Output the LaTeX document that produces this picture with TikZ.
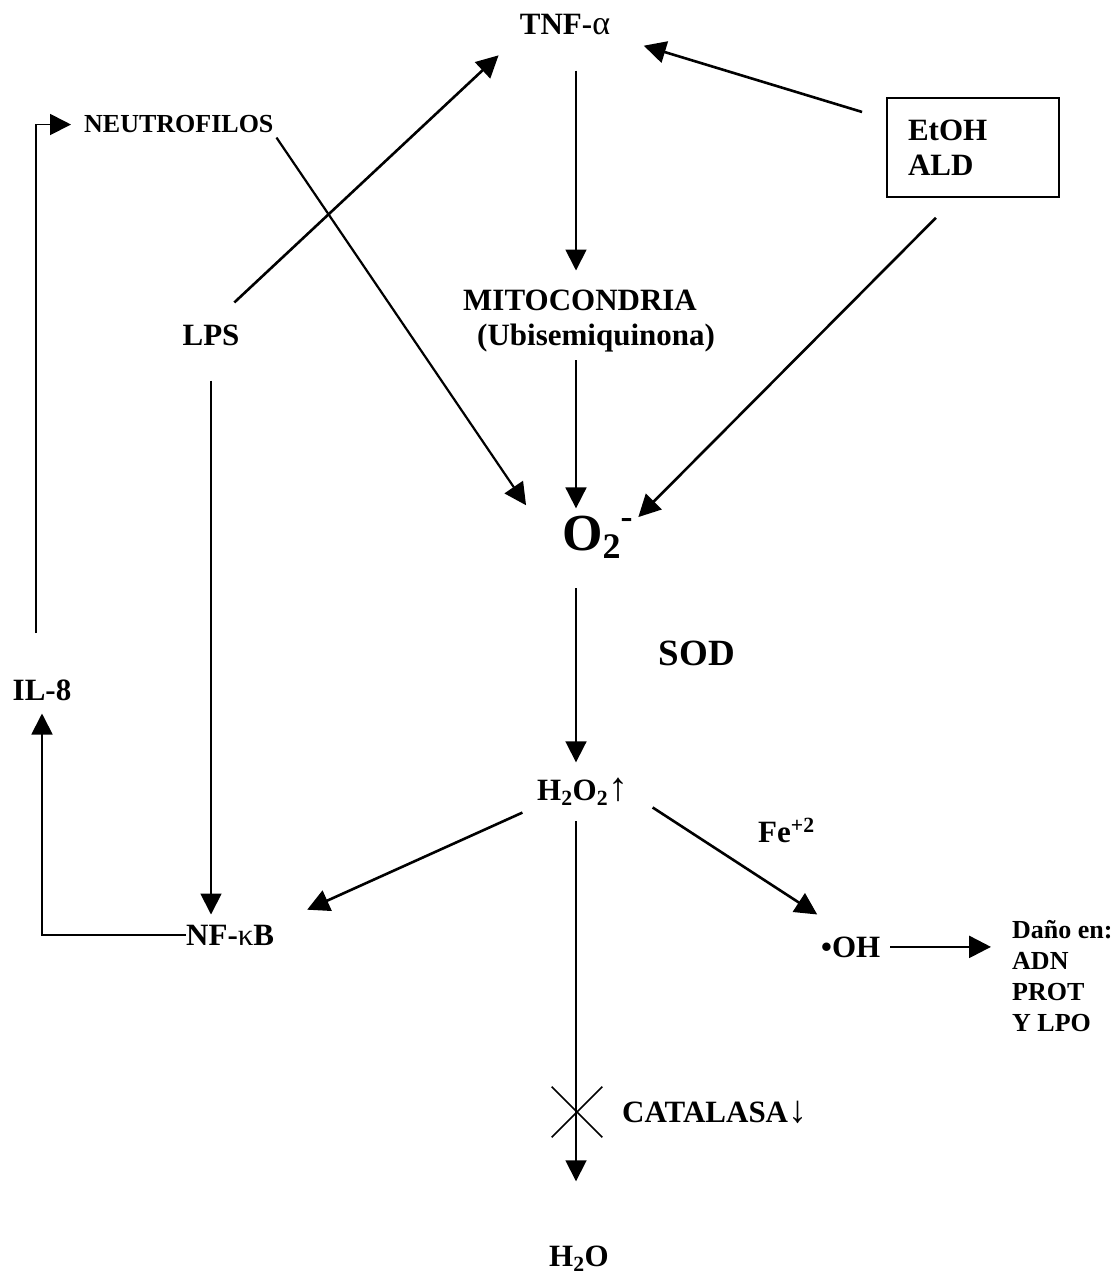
\documentclass[tikz,border=0pt]{standalone}
\usepackage{fontspec}
\setmainfont{Liberation Serif}
\usetikzlibrary{arrows.meta,shapes.misc,calc}

\begin{document}
\begin{tikzpicture}[x=1pt, y=-1pt,
    lbl/.style={inner sep=0pt, font=\bfseries\fontsize{31}{35}\selectfont},
    small/.style={inner sep=0pt, font=\bfseries\fontsize{26}{31}\selectfont},
    thinarr/.style={-{Triangle[length=21pt,width=21pt]}, line width=1.8pt},
    thickarr/.style={-{Triangle[length=22pt,width=22pt]}, line width=2.6pt}]
        \useasboundingbox (0,0) rectangle (1118,1276);
        % Central column
        \coordinate (spine) at (576,0);
        \node[lbl, anchor=base] (tnf) at (565,35) {TNF-{\mdseries\fontsize{34}{35}\selectfont α}};
        \node[lbl, anchor=north west, align=left] (mito) at (463,289.5) {MITOCONDRIA\\\hspace*{14pt}(Ubisemiquinona)};
        \node[inner sep=0pt, anchor=base west, font=\bfseries\fontsize{52}{60}\selectfont] (o2) at (562,550) {O\raisebox{-8pt}{\fontsize{36}{40}\selectfont 2}\raisebox{22pt}{\fontsize{36}{40}\selectfont -}};
        \node[inner sep=0pt, anchor=base, font=\bfseries\fontsize{37}{42}\selectfont] (sod) at (697,665) {SOD};
        \node[lbl, anchor=base west] (h2o2) at (537,800) {H\textsubscript{2}O\textsubscript{2}{\mdseries\fontsize{40}{40}\selectfont ↑}};
        \node[lbl, anchor=base] (h2o) at (579,1266) {H\textsubscript{2}O};
        \node[lbl, anchor=base west] (catalasa) at (622,1122) {CATALASA{\mdseries\fontsize{38}{40}\selectfont ↓}};
        % Left side
        \node[small, anchor=base west] (neut) at (84,133) {NEUTROFILOS};
        \node[lbl, anchor=base] (lps) at (211,345) {LPS};
        \node[lbl, anchor=base] (il8) at (42,700) {IL-8};
        \node[lbl, anchor=base west] (nfkb) at (186,945) {NF-{\mdseries κ}B};
        % Right side
        \node[lbl, draw, line width=2pt, align=left, text width=130pt, inner xsep=21pt, inner ysep=0pt, minimum width=172pt, minimum height=99pt] (etoh) at (973,147.5) {EtOH\\ALD};
        \node[lbl, anchor=base west] (fe) at (758,842) {Fe\textsuperscript{+2}};
        \node[lbl, anchor=base west] (oh) at (821,957) {•OH};
        \node[small, anchor=north west, align=left] (dano) at (1012,920) {Daño en:\\ADN\\PROT\\Y LPO};
        % Blocked catalase step
        \node[draw, cross out, line width=1.6pt, minimum size=49pt, inner sep=0pt] (block) at (577,1112) {};
        % Arrows
        \draw[thinarr, shorten <=35pt, shorten >=19pt] (tnf.south -| spine) -- (mito.north -| spine);
        \draw[thinarr, shorten <=8pt, shorten >=7pt] (mito.south -| spine) -- (o2.north -| spine);
        \draw[thickarr, line width=2.2pt, shorten <=5pt, shorten >=64pt] (neut.south east) -- (o2.south west);
        \draw[thickarr, shorten <=28pt, shorten >=58pt] (etoh.251) -- (o2.south);
        \draw[thickarr, shorten <=32pt, shorten >=29pt] (lps.north) -- (tnf.south west);
        \draw[thickarr, shorten <=25pt, shorten >=35pt] (etoh.162) -- (tnf.south east);
        \draw[thinarr, shorten <=35pt, shorten >=10pt] (lps.south) -- (lps.south |- nfkb.north);
        \draw[thinarr, shorten >=13pt] (nfkb.west) -| (il8.south);
        \draw[thinarr, shorten <=46pt, shorten >=13pt] ([xshift=-6pt]il8.north) |- (neut.west);
        \draw[thinarr, shorten <=30pt, shorten >=15pt] (o2.south -| spine) -- (h2o2.north -| spine);
        \draw[thickarr, shorten <=16pt, shorten >=36pt] (h2o2.south west) -- (nfkb.north east);
        \draw[thickarr, shorten <=29pt, shorten >=40pt] (h2o2.east) -- (oh.north);
        \draw[thickarr, shorten <=10pt, shorten >=21pt] (oh.east) -- (oh.east -| dano.west);
        \draw[thinarr, shorten <=15pt, shorten >=64pt] (h2o2.south -| spine) -- (h2o.north -| spine);
    \end{tikzpicture}
\end{document}
